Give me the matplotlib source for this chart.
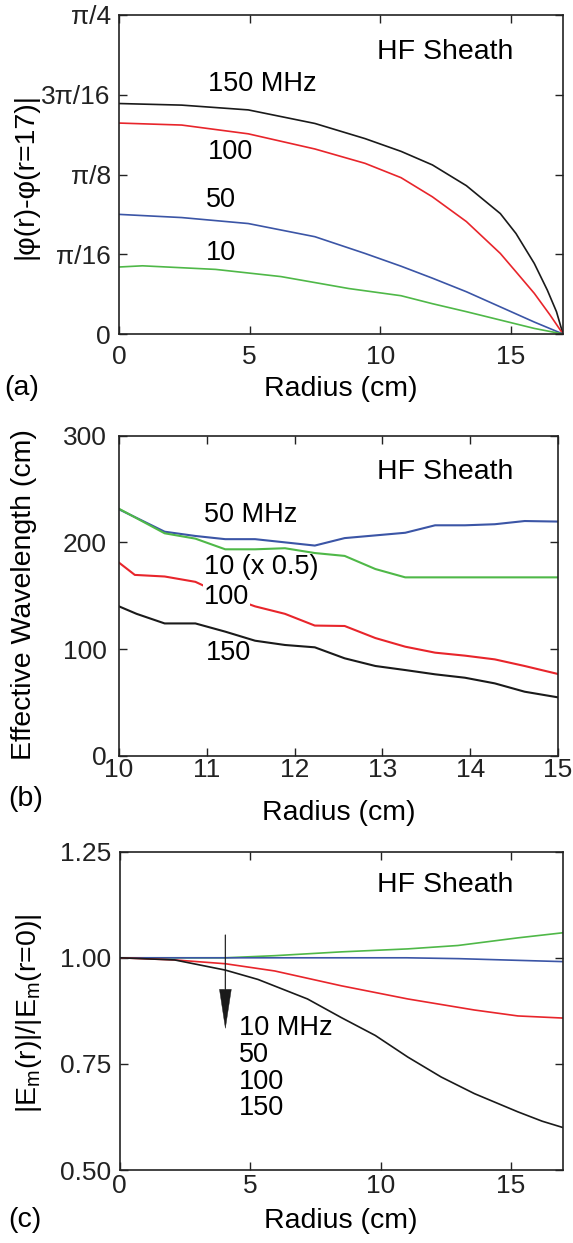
import numpy as np
import matplotlib
matplotlib.use("Agg")
import matplotlib.pyplot as plt

plt.rcParams['font.family'] = ['Liberation Sans', 'DejaVu Sans']
plt.rcParams['mathtext.fontset'] = 'custom'
plt.rcParams['mathtext.rm'] = 'Liberation Sans'
plt.rcParams['mathtext.it'] = 'Liberation Sans'

PI16 = np.pi / 16.0

# ---------------- Panel (a): phase difference (values in units of pi/16) ----------------
a_r_150 = [0, 2.4, 4.95, 7.5, 9.42, 10.8, 12.0, 13.3, 14.6, 15.2, 15.9, 16.4, 16.75, 17]
a_v_150 = [2.89, 2.87, 2.81, 2.64, 2.45, 2.29, 2.12, 1.86, 1.51, 1.26, 0.885, 0.55, 0.28, 0.0]
a_r_100 = [0, 2.4, 4.95, 7.5, 9.42, 10.8, 12.0, 13.3, 14.6, 15.2, 15.9, 16.5, 17]
a_v_100 = [2.645, 2.62, 2.51, 2.32, 2.14, 1.96, 1.72, 1.41, 1.01, 0.78, 0.51, 0.24, 0.0]
a_r_50 = [0, 2.4, 4.95, 7.5, 9.42, 10.8, 12.0, 13.3, 14.6, 15.9, 17]
a_v_50 = [1.50, 1.46, 1.385, 1.22, 1.01, 0.85, 0.70, 0.53, 0.34, 0.15, 0.0]
a_r_10 = [0, 0.9, 3.7, 6.2, 8.8, 10.8, 12.0, 13.3, 14.6, 15.9, 17]
a_v_10 = [0.84, 0.855, 0.81, 0.72, 0.57, 0.48, 0.38, 0.28, 0.175, 0.07, 0.0]
a_yticklabels = ['0', 'π/16', 'π/8', '3π/16', 'π/4']

# ---------------- Panel (b): effective wavelength ----------------
b_r_50 = [10, 10.52, 10.87, 11.21, 11.55, 12.23, 12.57, 13.26, 13.6, 13.94, 14.28, 14.62, 15]
b_v_50 = [231, 210, 206, 203, 203, 197, 204, 209, 216, 216, 217, 220, 219.5]
b_r_10 = [10, 10.52, 10.87, 11.21, 11.55, 11.89, 12.23, 12.57, 12.92, 13.26, 15]
b_v_10 = [231.5, 208.5, 203.5, 193.5, 193.5, 194.5, 190, 187.3, 175, 167.2, 167.2]
b_r_100 = [10, 10.18, 10.52, 10.87, 11.21, 11.55, 11.89, 12.23, 12.57, 12.92, 13.26, 13.6, 13.94, 14.28, 14.62, 15]
b_v_100 = [181, 169.5, 168, 163, 150, 140, 133, 122, 121.6, 110.3, 102.2, 96.6, 93.8, 90.3, 84.1, 76.6]
b_r_150 = [10, 10.2, 10.52, 10.87, 11.21, 11.55, 11.89, 12.23, 12.57, 12.92, 13.26, 13.6, 13.94, 14.28, 14.62, 15]
b_v_150 = [140, 133, 124, 124, 116.3, 107.8, 103.8, 101.6, 91.3, 84.1, 80.3, 76.3, 73.1, 67.8, 60, 54.7]

# ---------------- Panel (c): normalized field ----------------
c_r_10 = [0, 4.05, 5.94, 8.5, 11.05, 12.97, 15.27, 17]
c_v_10 = [1.0, 1.0, 1.005, 1.014, 1.021, 1.029, 1.047, 1.059]
c_r_50 = [0, 11.0, 13.0, 15.27, 17]
c_v_50 = [1.0, 1.0, 0.998, 0.994, 0.991]
c_r_100 = [0, 2.1, 4.05, 5.94, 8.5, 11.05, 13.6, 15.27, 17]
c_v_100 = [1.0, 0.995, 0.986, 0.969, 0.934, 0.903, 0.877, 0.863, 0.858]
c_r_150 = [0, 2.1, 4.05, 5.3, 7.2, 8.5, 9.8, 11.05, 12.33, 13.6, 15.27, 16.2, 17]
c_v_150 = [1.0, 0.995, 0.971, 0.949, 0.903, 0.859, 0.817, 0.766, 0.719, 0.680, 0.637, 0.615, 0.600]

BLACK = '#1a1a1a'
RED = '#e8252b'
BLUE = '#3b55a6'
GREEN = '#4fb848'

W, H = 573, 1243
fig = plt.figure(figsize=(W / 100, H / 100), dpi=100)


def px_axes(l, r, t, b):
    return fig.add_axes([l / W, 1 - b / H, (r - l) / W, (b - t) / H])


TICK_FS = 19
LAB_FS = 20.5
ANN_FS = 19.5
HF_FS = 20.5


def style(ax, xpad, ypad):
    for s in ax.spines.values():
        s.set_linewidth(1.2)
        s.set_color('#222222')
    ax.tick_params(direction='in', length=6, width=1.0, top=True, right=True,
                   labelsize=TICK_FS, colors='#222222')
    ax.tick_params(axis='x', pad=xpad)
    ax.tick_params(axis='y', pad=ypad)


# ---- (a)
axa = px_axes(119, 563, 15, 334)
lw = 1.2
axa.plot(a_r_150, np.array(a_v_150) * PI16, color=BLACK, lw=lw)
axa.plot(a_r_100, np.array(a_v_100) * PI16, color=RED, lw=lw)
axa.plot(a_r_50, np.array(a_v_50) * PI16, color=BLUE, lw=lw)
axa.plot(a_r_10, np.array(a_v_10) * PI16, color=GREEN, lw=lw)
axa.set_xlim(0, 17)
axa.set_ylim(0, 4 * PI16)
axa.set_xticks([0, 5, 10, 15])
axa.set_yticks([k * PI16 for k in range(5)])
axa.set_yticklabels(a_yticklabels)
style(axa, 8, 6)
axa.text(9.89, 3.53 * PI16, 'HF Sheath', fontsize=HF_FS, va='center', ha='left')
axa.text(3.39, 3.14 * PI16, '150 MHz', fontsize=ANN_FS, va='center', ha='left')
axa.text(3.39, 2.28 * PI16, '100', fontsize=ANN_FS, va='center', ha='left')
axa.text(3.32, 1.68 * PI16, '50', fontsize=ANN_FS, va='center', ha='left')
axa.text(3.32, 1.02 * PI16, '10', fontsize=ANN_FS, va='center', ha='left')

# ---- (b)
axb = px_axes(119, 558, 435.7, 755.7)
lwb = 1.5
axb.plot(b_r_50, b_v_50, color=BLUE, lw=lwb, zorder=2)
axb.plot(b_r_10, b_v_10, color=GREEN, lw=lwb, zorder=2)
axb.plot(b_r_100, b_v_100, color=RED, lw=lwb, zorder=2)
axb.plot(b_r_150, b_v_150, color=BLACK, lw=lwb, zorder=2)
axb.set_xlim(10, 15)
axb.set_ylim(0, 300)
axb.set_xticks([10, 11, 12, 13, 14, 15])
axb.set_yticks([0, 100, 200, 300])
style(axb, 2, 9)
axb.text(12.94, 266, 'HF Sheath', fontsize=HF_FS, va='center', ha='left')
axb.text(10.97, 225.7, '50 MHz', fontsize=ANN_FS, va='center', ha='left')
axb.text(10.97, 177.2, '10 (x 0.5)', fontsize=ANN_FS, va='center', ha='left')
axb.text(10.97, 149, '100', fontsize=ANN_FS, va='center', ha='left', zorder=5,
         bbox=dict(facecolor='white', edgecolor='none', pad=0.5))
axb.text(10.99, 96, '150', fontsize=ANN_FS, va='center', ha='left')

# ---- (c)
axc = px_axes(119.8, 563, 851.7, 1170)
axc.plot(c_r_10, c_v_10, color=GREEN, lw=lw)
axc.plot(c_r_50, c_v_50, color=BLUE, lw=lw)
axc.plot(c_r_100, c_v_100, color=RED, lw=lw)
axc.plot(c_r_150, c_v_150, color=BLACK, lw=lw)
axc.set_xlim(0, 17)
axc.set_ylim(0.5, 1.25)
axc.set_xticks([0, 5, 10, 15])
axc.set_yticks([0.5, 0.75, 1.0, 1.25])
axc.set_yticklabels(['0.50', '0.75', '1.00', '1.25'])
style(axc, 3, 6.5)
axc.text(9.88, 1.171, 'HF Sheath', fontsize=HF_FS, va='center', ha='left')
for lab, yv in zip(['10 MHz', '50', '100', '150'], [0.834, 0.771, 0.707, 0.645]):
    axc.text(4.56, yv, lab, fontsize=ANN_FS, va='center', ha='left')
axc.annotate('', xy=(4.05, 0.834), xytext=(4.05, 1.054),
             arrowprops=dict(facecolor=BLACK, edgecolor=BLACK, width=0.6,
                             headwidth=8.5, headlength=28, shrink=0.0, lw=0.3))

# ---- figure-level labels
def ftext(x, y, s, **kw):
    fig.text(x / W, 1 - y / H, s, **kw)

ftext(341, 389, 'Radius (cm)', fontsize=LAB_FS, ha='center', va='center')
ftext(338.5, 813, 'Radius (cm)', fontsize=LAB_FS, ha='center', va='center')
ftext(341, 1221, 'Radius (cm)', fontsize=LAB_FS, ha='center', va='center')
ftext(4, 388, '(a)', fontsize=LAB_FS, ha='left', va='center')
ftext(8, 799, '(b)', fontsize=LAB_FS, ha='left', va='center')
ftext(8, 1220, '(c)', fontsize=LAB_FS, ha='left', va='center')
ftext(26, 176, '|φ(r)-φ(r=17)|', fontsize=LAB_FS, ha='center', va='center', rotation=90)
ftext(24, 595, 'Effective Wavelength (cm)', fontsize=LAB_FS, ha='center', va='center', rotation=90)
ftext(29, 1013, r'|E$_\mathregular{m}$(r)|/|E$_\mathregular{m}$(r=0)|', fontsize=LAB_FS,
      ha='center', va='center', rotation=90)

fig.savefig('out.png', dpi=100)
